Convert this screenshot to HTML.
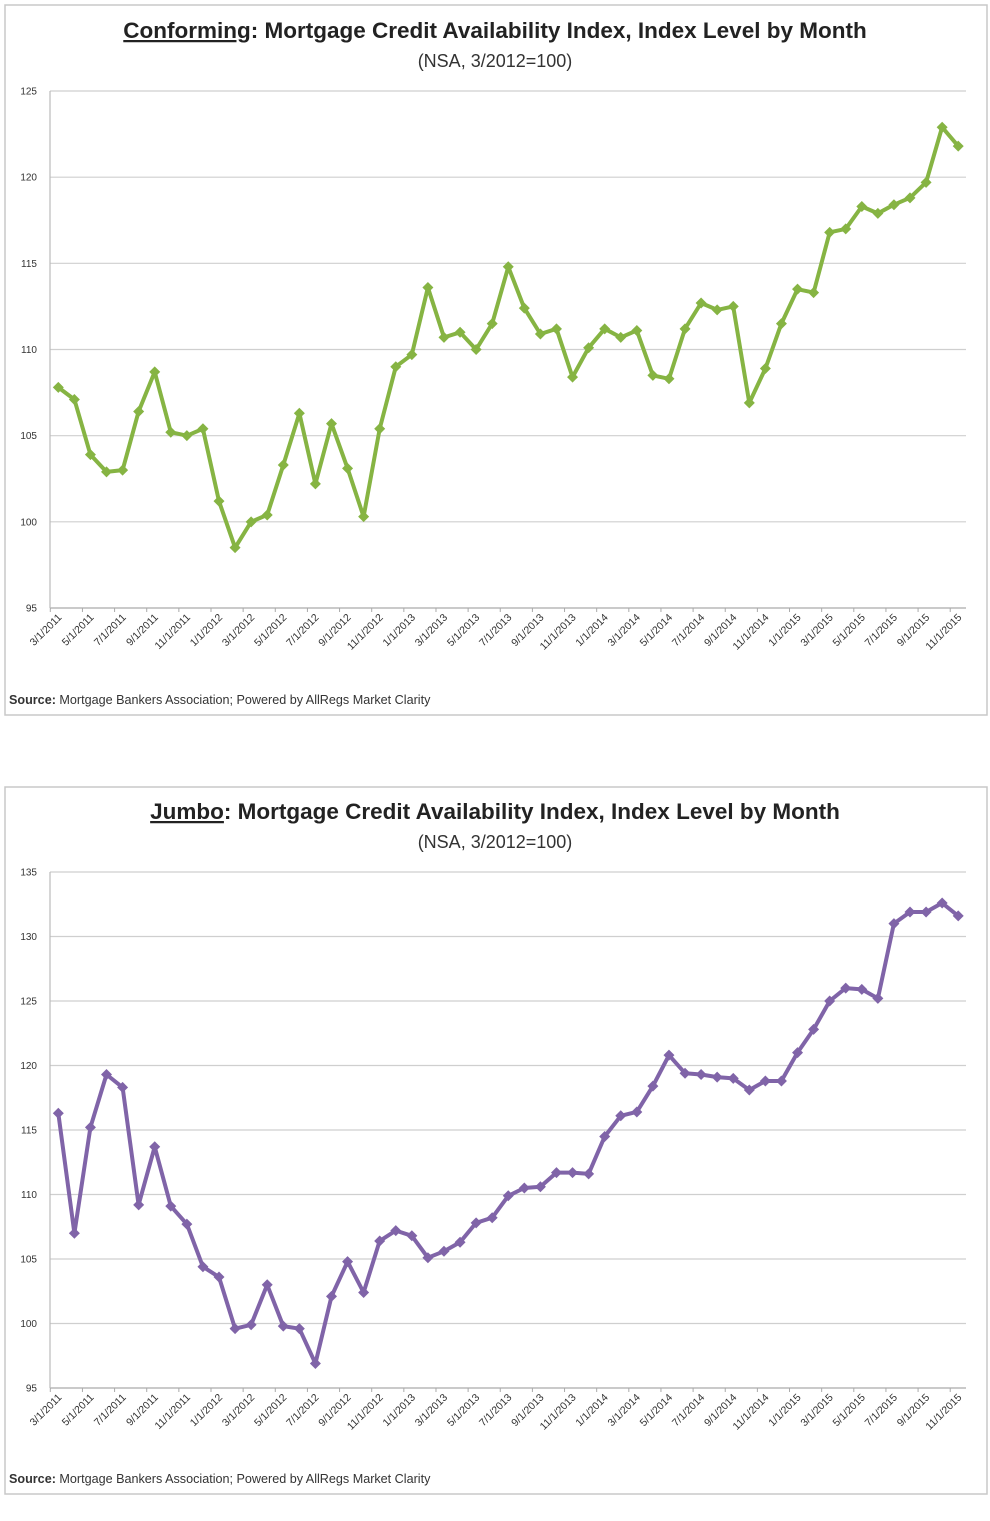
<!DOCTYPE html>
<html><head><meta charset="utf-8">
<style>
body{margin:0;background:#fff;font-family:"Liberation Sans",sans-serif;}
svg{display:block}
</style></head>
<body>
<svg id="chart" width="990" height="1521" viewBox="0 0 990 1521" xmlns="http://www.w3.org/2000/svg">
<rect x="5" y="5" width="982" height="710" fill="#fff" stroke="#c8c8c8" stroke-width="1.5"/>
<rect x="5" y="787" width="982" height="707" fill="#fff" stroke="#c8c8c8" stroke-width="1.5"/>
<text x="495" y="38" text-anchor="middle" font-size="22.5" font-weight="bold" fill="#222"><tspan text-decoration="underline">Conforming</tspan>: Mortgage Credit Availability Index, Index Level by Month</text>
<text x="495" y="67" text-anchor="middle" font-size="18" fill="#333">(NSA, 3/2012=100)</text>
<text x="495" y="819" text-anchor="middle" font-size="22.5" font-weight="bold" fill="#222"><tspan text-decoration="underline">Jumbo</tspan>: Mortgage Credit Availability Index, Index Level by Month</text>
<text x="495" y="848" text-anchor="middle" font-size="18" fill="#333">(NSA, 3/2012=100)</text>
<text x="9" y="704" font-size="12.6" fill="#333"><tspan font-weight="bold">Source:</tspan> Mortgage Bankers Association; Powered by AllRegs Market Clarity</text>
<text x="9" y="1483" font-size="12.6" fill="#333"><tspan font-weight="bold">Source:</tspan> Mortgage Bankers Association; Powered by AllRegs Market Clarity</text>
<g id="c1"></g><g id="c2"></g>
</svg>
<script>
const months = [];
for (let y = 2011, m = 3; months.length < 57; ) { months.push(m + "/1/" + y); m++; if (m > 12) { m = 1; y++; } }
const conformingValues = [107.8,107.1,103.9,102.9,103.0,106.4,108.7,105.2,105.0,105.4,101.2,98.5,100.0,100.4,103.3,106.3,102.2,105.7,103.1,100.3,105.4,109.0,109.7,113.6,110.7,111.0,110.0,111.5,114.8,112.4,110.9,111.2,108.4,110.1,111.2,110.7,111.1,108.5,108.3,111.2,112.7,112.3,112.5,106.9,108.9,111.5,113.5,113.3,116.8,117.0,118.3,117.9,118.4,118.8,119.7,122.9,121.8];
const jumboValues = [116.3,107.0,115.2,119.3,118.3,109.2,113.7,109.1,107.7,104.4,103.6,99.6,99.9,103.0,99.8,99.6,96.9,102.1,104.8,102.4,106.4,107.2,106.8,105.1,105.6,106.3,107.8,108.2,109.9,110.5,110.6,111.7,111.7,111.6,114.5,116.1,116.4,118.4,120.8,119.4,119.3,119.1,119.0,118.1,118.8,118.8,121.0,122.8,125.0,126.0,125.9,125.2,131.0,131.9,131.9,132.6,131.6];
const conformingTicks = [95,100,105,110,115,120,125];
const jumboTicks = [95,100,105,110,115,120,125,130,135];
const NS = "http://www.w3.org/2000/svg";
function mk(tag, attrs, parent) { const e = document.createElementNS(NS, tag); for (const k in attrs) e.setAttribute(k, attrs[k]); parent.appendChild(e); return e; }
function draw(g, prefix, values, ticks, top, bottom, color) {
  const L = 50, R = 966, x0 = 58.3, step = 16.07;
  const min = ticks[0], max = ticks[ticks.length - 1];
  const yS = v => bottom - (v - min) / (max - min) * (bottom - top);
  const xS = i => x0 + i * step;
  ticks.forEach(t => {
    const ln = mk("line", {x1: L, x2: R, y1: yS(t), y2: yS(t), stroke: t === min ? "#aaa" : "#cfcfcf", "stroke-width": 1.2}, g);
    
    
    const tx = mk("text", {x: 37, y: yS(t) + 3.5, "text-anchor": "end", "font-size": 10, fill: "#333"}, g);
    tx.textContent = t;
    
    
  });
  const ax = mk("line", {x1: L, x2: L, y1: top, y2: bottom, stroke: "#bbb", "stroke-width": 1.2}, g);
  
  
  for (let i = 0; i < values.length; i += 2) {
    const tk = mk("line", {x1: xS(i) - 8, x2: xS(i) - 8, y1: bottom, y2: bottom + 4, stroke: "#aaa"}, g);
    
    
    const lx = xS(i) + 4, ly = bottom + 10;
    const lb = mk("text", {x: lx, y: ly, "text-anchor": "end", "font-size": 10.5, fill: "#333", transform: `rotate(-45 ${lx} ${ly})`}, g);
    lb.textContent = months[i];
    
    
  }
  const pts = values.map((v, i) => xS(i).toFixed(1) + "," + yS(v).toFixed(1)).join(" ");
  const pl = mk("polyline", {points: pts, fill: "none", stroke: color, "stroke-width": 4, "stroke-linejoin": "round"}, g);
  
  
  values.forEach((v, i) => {
    const x = xS(i), y = yS(v), s = 5.5;
    const d = mk("polygon", {points: `${x},${y - s} ${x + s},${y} ${x},${y + s} ${x - s},${y}`, fill: color}, g);
    
    
  });
}
draw(document.getElementById("c1"), "conforming", conformingValues, conformingTicks, 91, 608, "#86b443");
draw(document.getElementById("c2"), "jumbo", jumboValues, jumboTicks, 872, 1388, "#8064a8");
</script>
</body></html>
